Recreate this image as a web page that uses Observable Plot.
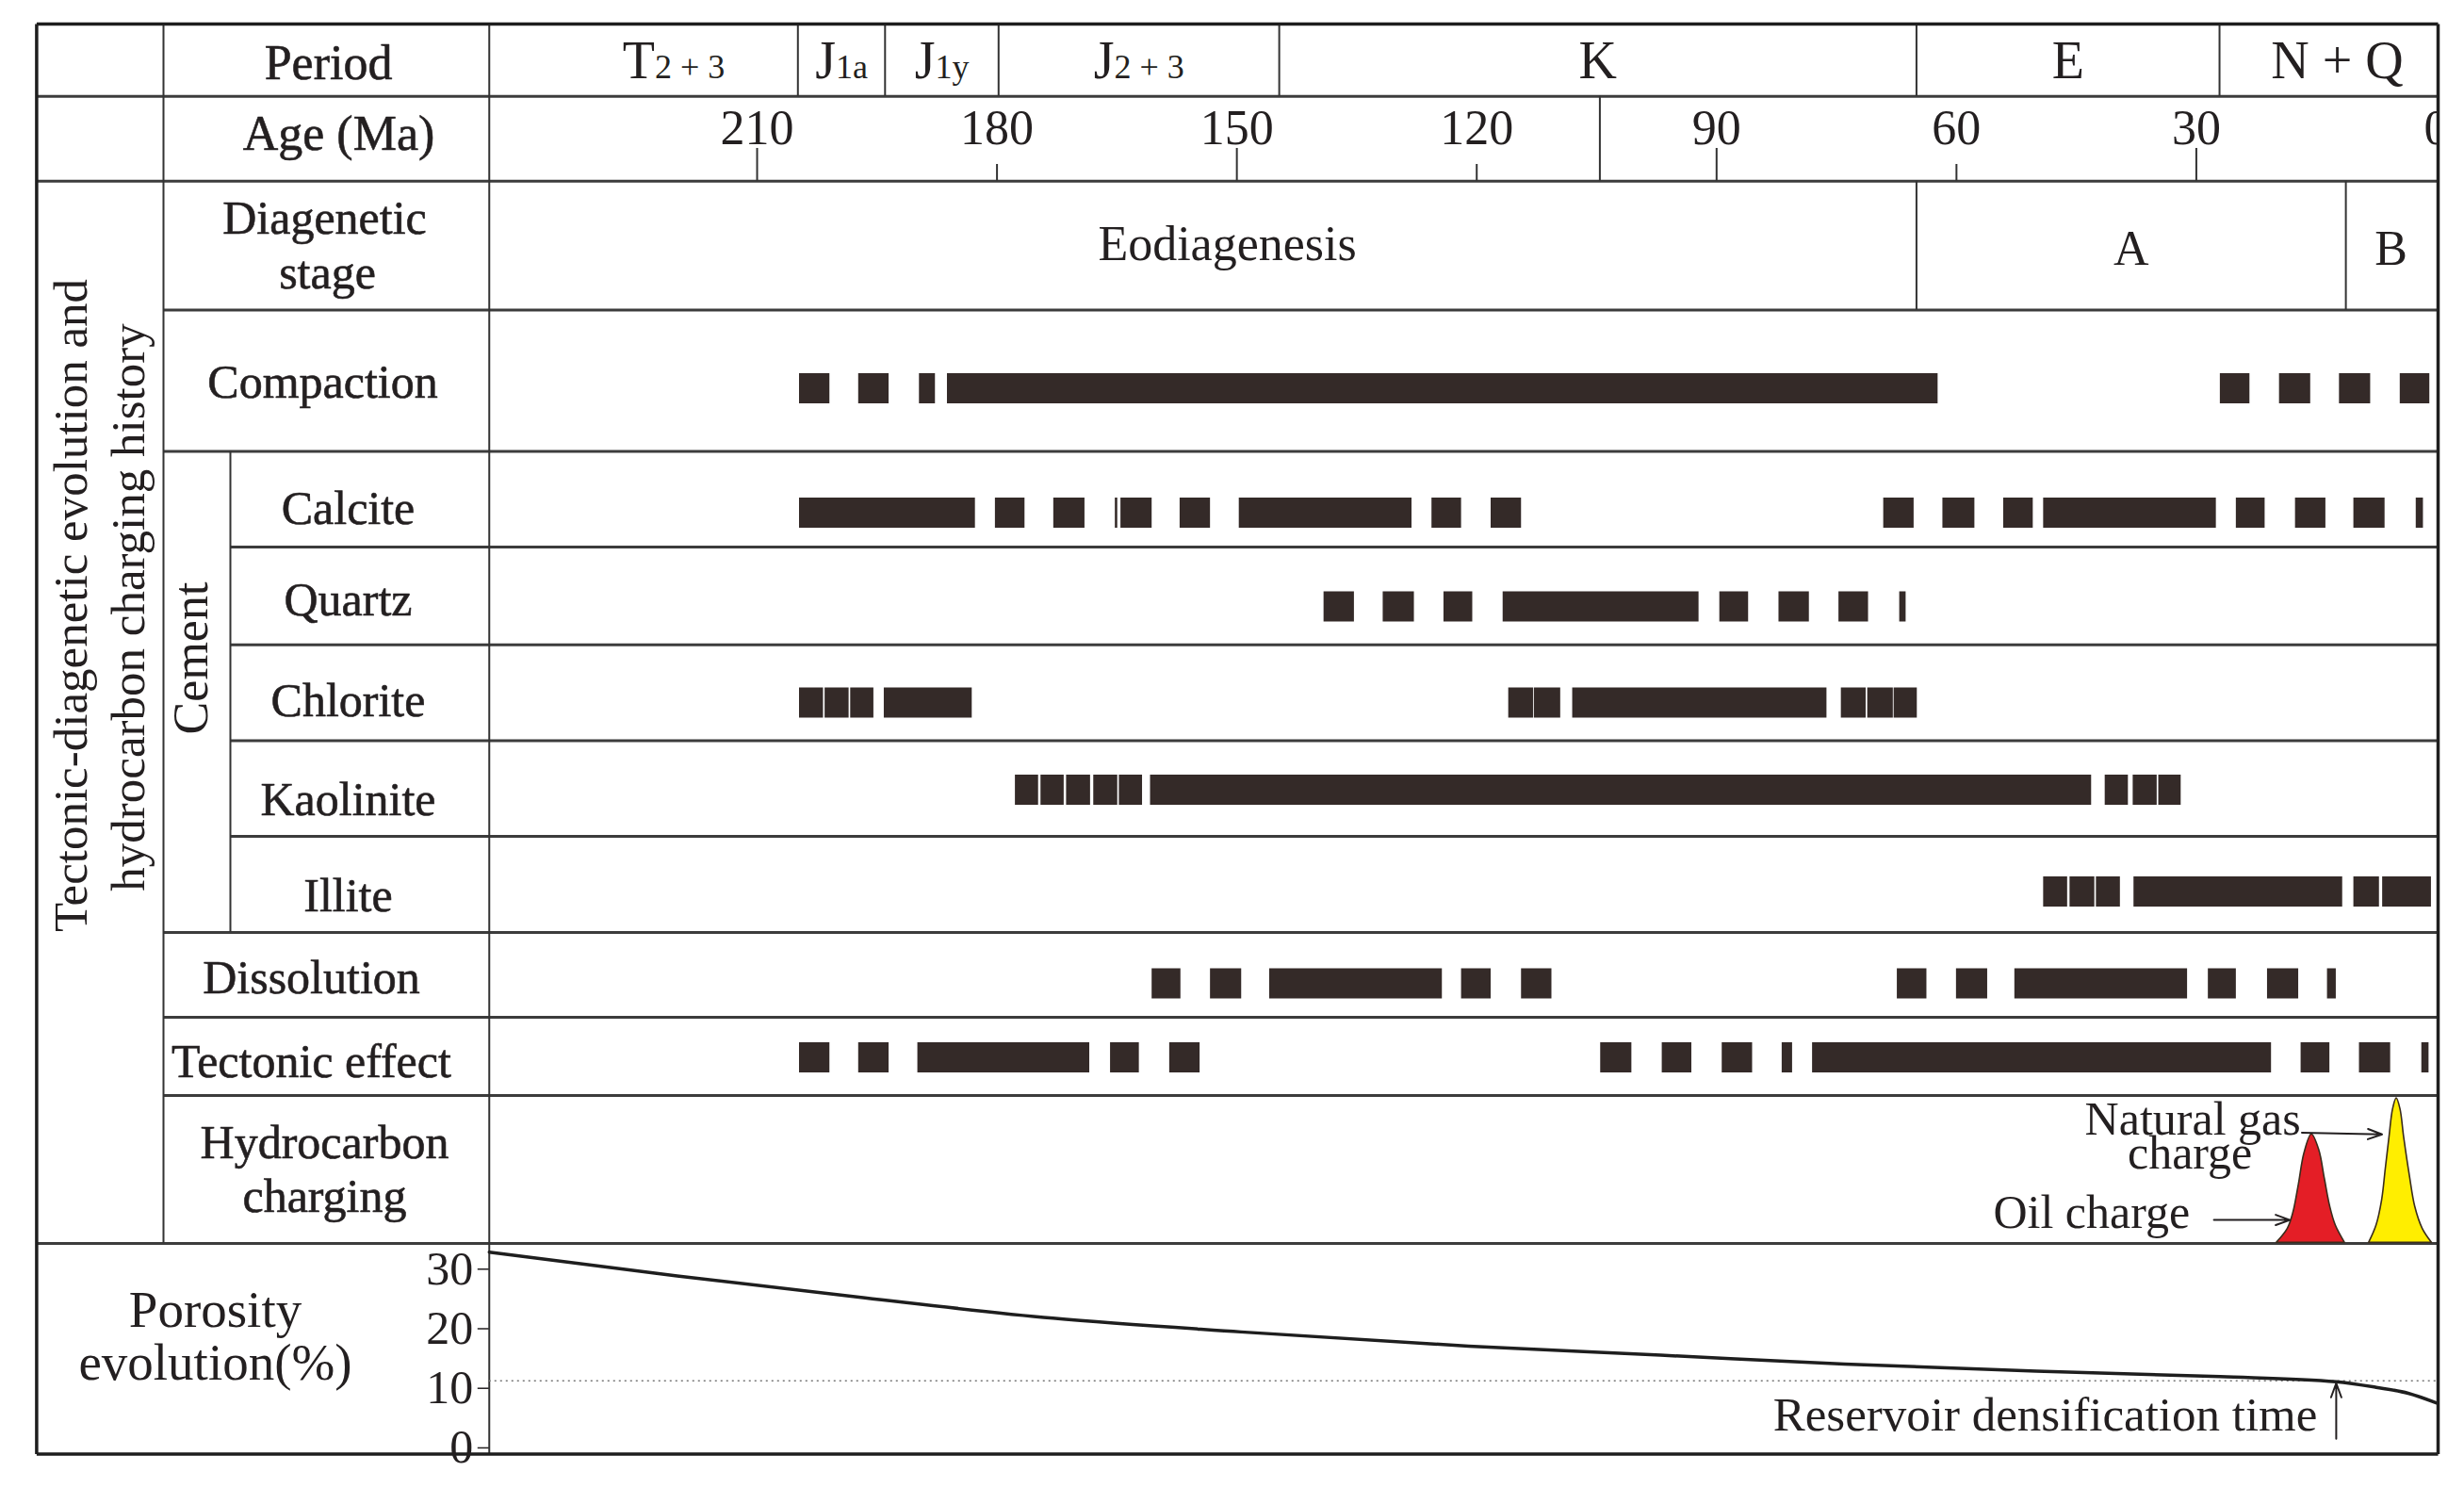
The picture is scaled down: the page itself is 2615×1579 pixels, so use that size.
<!DOCTYPE html>
<html>
<head>
<meta charset="utf-8">
<script src="https://cdn.jsdelivr.net/npm/d3@7"></script>
<script src="https://cdn.jsdelivr.net/npm/@observablehq/plot@0.6"></script>
<style>
  html, body { margin: 0; padding: 0; background: #fff; }
  #fig { position: relative; width: 2615px; height: 1579px; overflow: hidden; }
  #fig > svg { position: absolute; left: 0; }
  g[aria-label="row labels"] text { letter-spacing: 1.5px; }
</style>
</head>
<body>
<div id="fig"></div>
<script>
// ================= DATA =================
// geological periods (age in Ma, older / younger boundary)
const periodNames = ["T|2 + 3", "J|1a", "J|1y", "J|2 + 3", "K", "E", "N + Q"];
const periodOld   = [243.5, 204.9, 194.0, 179.8, 144.7, 65.0, 27.1];
const periodYoung = [204.9, 194.0, 179.8, 144.7, 65.0, 27.1, 0];
const ageTicks = [210, 180, 150, 120, 90, 60, 30, 0];
const ageRowDivider = [104.6];

// diagenetic stages
const stageNames = ["Eodiagenesis", "A", "B"];
const stageOld   = [243.5, 65.0, 11.3];
const stageYoung = [65.0, 11.3, 0];

// diagenetic processes: [older, younger] intervals in Ma
const processNames = ["Compaction", "Calcite", "Quartz", "Chlorite", "Kaolinite", "Illite", "Dissolution", "Tectonic effect"];
const compaction = [[204.7,200.9],[197.3,193.5],[189.7,187.7],[186.2,62.3],[27.0,23.3],[19.6,15.7],[12.1,8.2],[4.5,0.8]];
const calcite = [[204.7,182.7],[180.2,176.5],[172.9,169.0],[165.2,164.9],[164.5,160.6],[157.1,153.3],[149.7,128.1],[125.6,121.9],[118.2,114.4],
                 [69.1,65.3],[61.7,57.7],[54.1,50.4],[49.1,27.5],[25.0,21.4],[17.6,13.8],[10.3,6.4],[2.5,1.6]];
const quartz = [[139.1,135.3],[131.7,127.8],[124.1,120.5],[116.7,92.2],[89.6,86.0],[82.2,78.4],[74.7,71.0],[67.1,66.3]];
const chlorite = [[204.7,201.7],[201.5,198.5],[198.3,195.4],[194.1,183.1],[116.0,112.9],[112.8,109.5],[108.0,76.2],[74.4,71.3],[71.1,67.9],[67.8,64.9]];
const kaolinite = [[177.7,174.8],[174.5,171.6],[171.3,168.3],[167.9,164.9],[164.7,161.8],[160.8,43.1],[41.4,38.5],[37.9,34.9],[34.7,31.9]];
const illite = [[49.1,46.1],[45.8,42.7],[42.5,39.5],[37.8,11.7],[10.3,7.1],[6.7,0.6]];
const dissolution = [[160.6,157.0],[153.3,149.4],[145.9,124.3],[121.9,118.2],[114.4,110.6],
                     [67.4,63.7],[60.0,56.1],[52.7,31.1],[28.5,25.0],[21.1,17.2],[13.6,12.5]];
const tectonic = [[204.7,200.9],[197.3,193.5],[189.9,168.4],[165.8,162.2],[158.4,154.6],
                  [104.5,100.6],[96.8,93.1],[89.3,85.5],[81.8,80.5],[78.0,20.6],[16.9,13.3],[9.6,5.7],[1.8,0.9]];

// hydrocarbon charging pulses (relative intensity)
const oilAge   = [19.95, 18.56, 17.87, 17.18, 16.48, 15.56, 14.63, 13.94, 13.26, 12.56, 11.41];
const oilLevel = [0, 0.096, 0.203, 0.395, 0.608, 0.736, 0.629, 0.437, 0.245, 0.117, 0];
const gasAge   = [8.40, 7.47, 6.77, 6.31, 5.85, 5.40, 4.94, 4.47, 4.01, 3.31, 2.63, 1.70, 0.54];
const gasLevel = [0, 0.117, 0.288, 0.501, 0.714, 0.906, 0.981, 0.906, 0.714, 0.458, 0.245, 0.096, 0];

// porosity evolution (%)
const porosityAge   = [243.5, 220, 196.5, 173, 149.5, 121, 97, 74, 50, 27, 12.5, 7.5, 3.5, 0];
const porosityValue = [31.6, 27.6, 23.9, 20.5, 18.2, 15.8, 14.3, 12.8, 11.6, 10.7, 9.85, 8.9, 7.9, 6.3];
const porosityTicks = [0, 10, 20, 30];
const densificationThreshold = 10;
const densificationAge = 12.5;

// ================= LAYOUT =================
const W = 2615, H = 1579;
const CHART_L = 518.75, CHART_R = 2587, ZERO_PX = 2585;
const AGE_L = 243.5;
const PXMA = (ZERO_PX - CHART_L) / AGE_L;
const AGE_R = (ZERO_PX - CHART_R) / PXMA;
const toAge = px => (ZERO_PX - px) / PXMA;
const LEFT = 38.4, COL1 = 173, COL2 = 244;
const Y = {top: 25, period: 101.7, age: 191.8, diag: 328.5, comp: 478.6, calc: 580, quartz: 683.8,
           chlor: 785.5, kaol: 887, illite: 989, diss: 1079, tect: 1162, hydro: 1319, bottom: 1542.6};
const BAR_Y = [412, 544, 643.5, 745.5, 838, 946, 1043.5, 1122];
const BAR_H = 32;
const FONT = "'Liberation Serif', 'Times New Roman', serif";
const INK = "#231f20";
const BAR = "#342a28";
const LINE = "#333";

// ================= BUILD TABLES =================
const intervals = [compaction, calcite, quartz, chlorite, kaolinite, illite, dissolution, tectonic];
const bars = [];
processNames.forEach((p, i) => intervals[i].forEach(([o, y]) => bars.push({process: p, i, old: o, young: y})));
const periods = periodNames.map((name, i) => ({name, old: periodOld[i], young: periodYoung[i]}));
const stages = stageNames.map((name, i) => ({name, old: stageOld[i], young: stageYoung[i]}));
const oil = oilAge.map((age, i) => ({age, level: oilLevel[i]}));
const gas = gasAge.map((age, i) => ({age, level: gasLevel[i]}));
const porosity = porosityAge.map((age, i) => ({age, value: porosityValue[i]}));

const hLines = [
  {y: Y.period, x1: LEFT, x2: CHART_R}, {y: Y.age, x1: LEFT, x2: CHART_R},
  {y: Y.diag, x1: COL1, x2: CHART_R}, {y: Y.comp, x1: COL1, x2: CHART_R},
  {y: Y.calc, x1: COL2, x2: CHART_R}, {y: Y.quartz, x1: COL2, x2: CHART_R},
  {y: Y.chlor, x1: COL2, x2: CHART_R}, {y: Y.kaol, x1: COL2, x2: CHART_R},
  {y: Y.illite, x1: COL1, x2: CHART_R}, {y: Y.diss, x1: COL1, x2: CHART_R},
  {y: Y.tect, x1: COL1, x2: CHART_R}, {y: Y.hydro, x1: LEFT, x2: CHART_R}
];
const vLines = [
  {x: COL1, y1: Y.top, y2: Y.hydro}, {x: COL2, y1: Y.comp, y2: Y.illite},
  {x: CHART_L, y1: Y.top, y2: Y.bottom}
];
const border = [
  {x1: LEFT, y1: Y.top, x2: CHART_R, y2: Y.top}, {x1: LEFT, y1: Y.bottom, x2: CHART_R, y2: Y.bottom},
  {x1: LEFT, y1: Y.top, x2: LEFT, y2: Y.bottom}, {x1: CHART_R, y1: Y.top, x2: CHART_R, y2: Y.bottom}
];
const rowLabels = [
  {t: "Period", x: 348, y: 83, s: 52}, {t: "Age (Ma)", x: 359, y: 158, s: 52},
  {t: "Diagenetic", x: 344, y: 247, s: 50}, {t: "stage", x: 347, y: 305, s: 50},
  {t: "Compaction", x: 342, y: 421, s: 50},
  {t: "Calcite", x: 369, y: 555, s: 50}, {t: "Quartz", x: 369, y: 652, s: 50},
  {t: "Chlorite", x: 369, y: 759, s: 50}, {t: "Kaolinite", x: 369, y: 864, s: 50},
  {t: "Illite", x: 369, y: 966, s: 50}, {t: "Dissolution", x: 330, y: 1053, s: 50},
  {t: "Hydrocarbon", x: 344, y: 1228, s: 50}, {t: "charging", x: 344, y: 1285, s: 50}
];

const stageShift = [26, 0, 0];
const periodShift = [32, 0, 0, 0, 0, 0, 10];
const midPx = d => ((ZERO_PX - d.old * PXMA) + (ZERO_PX - d.young * PXMA)) / 2;

const main = Plot.plot({
  width: W, height: H,
  marginLeft: CHART_L, marginRight: W - CHART_R, marginTop: 0, marginBottom: 0,
  x: {domain: [AGE_L, AGE_R], axis: null},
  y: {type: "identity", axis: null},
  style: {fontFamily: FONT, background: "white", color: INK},
  marks: [
    Plot.rect(bars, {x1: "old", x2: "young", y1: d => BAR_Y[d.i] - BAR_H / 2, y2: d => BAR_Y[d.i] + BAR_H / 2, fill: BAR}),
    Plot.ruleY(hLines, {y: "y", x1: d => toAge(d.x1), x2: d => toAge(d.x2), stroke: "#3c3c3c", strokeWidth: 3}),
    Plot.ruleX(vLines, {x: d => toAge(d.x), y1: "y1", y2: "y2", stroke: LINE, strokeWidth: 2}),
    Plot.ruleX(periodOld.slice(1), {x: d => d, y1: Y.top, y2: Y.period, stroke: LINE, strokeWidth: 2}),
    Plot.ruleX(stageOld.slice(1), {x: d => d, y1: Y.age, y2: Y.diag, stroke: LINE, strokeWidth: 2}),
    Plot.ruleX(ageRowDivider, {x: d => d, y1: Y.period, y2: Y.age, stroke: LINE, strokeWidth: 2}),
    Plot.ruleX(ageTicks.filter(d => d > 0), {x: d => d, y1: (d, i) => i % 2 === 0 ? 157 : 174, y2: Y.age, stroke: LINE, strokeWidth: 2}),
    Plot.link(border, {x1: d => toAge(d.x1), x2: d => toAge(d.x2), y1: "y1", y2: "y2", stroke: "#1e1e1e", strokeWidth: 3.5}),
    // tick labels
    Plot.text(ageTicks, {x: d => d, y: 152, text: d => String(d), lineAnchor: "bottom", fontSize: 52, fill: INK, clip: "frame"}),
    // period & stage labels
    Plot.text(periods, {x: (d, i) => toAge(midPx(d) + periodShift[i]), y: 82, text: "name", lineAnchor: "bottom", fontSize: 56, fill: INK}),
    Plot.text(stages, {x: (d, i) => toAge(midPx(d) + stageShift[i]), y: (d, i) => i === 0 ? 275 : 280, text: "name", lineAnchor: "bottom", fontSize: 52, fill: INK}),
    // row labels
    Plot.text(rowLabels, {x: d => toAge(d.x), y: "y", text: "t", fontSize: d => d.s, lineAnchor: "bottom", fill: INK, stroke: INK, strokeWidth: 0.6, ariaLabel: "row labels"}),
    Plot.text(["Tectonic effect"], {x: toAge(330), y: 1142, text: d => d, fontSize: 50, lineAnchor: "bottom", fill: INK, stroke: INK, strokeWidth: 0.6}),
    Plot.text(["Cement"], {x: toAge(219), y: 698, text: d => d, rotate: -90, fontSize: 52, lineAnchor: "bottom", fill: INK}),
    Plot.text(["Tectonic-diagenetic evolution and"], {x: toAge(91), y: 642, text: d => d, rotate: -90, fontSize: 51, lineAnchor: "bottom", fill: INK}),
    Plot.text(["hydrocarbon charging history"], {x: toAge(152), y: 644, text: d => d, rotate: -90, fontSize: 51, lineAnchor: "bottom", fill: INK}),
    Plot.text(["Porosity"], {x: toAge(228), y: 1407, text: d => d, fontSize: 55, lineAnchor: "bottom", fill: INK}),
    Plot.text(["evolution(%)"], {x: toAge(228), y: 1463, text: d => d, fontSize: 55, lineAnchor: "bottom", fill: INK})
  ]
});
// subscript parts of period names
d3.select(main).selectAll("text").each(function () {
  const t = this.textContent;
  if (t.includes("|")) {
    const [a, b] = t.split("|");
    const s = d3.select(this);
    s.text(null);
    s.append("tspan").text(a);
    s.append("tspan").attr("font-size", 36).text(b);
  }
});
main.style.top = "0px";

const hydro = Plot.plot({
  width: W, height: Y.hydro - Y.tect,
  marginLeft: CHART_L, marginRight: W - CHART_R, marginTop: 0, marginBottom: 0.7,
  x: {domain: [AGE_L, AGE_R], axis: null},
  y: {domain: [0, 1], axis: null},
  style: {fontFamily: FONT, background: "transparent", overflow: "visible", color: INK},
  marks: [
    Plot.areaY(oil, {x: "age", y: "level", curve: "catmull-rom", fill: "#e41e26", stroke: "#3a2c1c", strokeWidth: 1.6}),
    Plot.areaY(gas, {x: "age", y: "level", curve: "catmull-rom", fill: "#ffee00", stroke: "#3a2c1c", strokeWidth: 1.6}),
    Plot.text(["Natural gas"], {x: 16.95, y: 0.736, text: d => d, textAnchor: "end", lineAnchor: "bottom", fontSize: 50, fill: INK}),
    Plot.text(["charge"], {x: 30.8, y: 0.505, text: d => d, lineAnchor: "bottom", fontSize: 50, fill: INK}),
    Plot.text(["Oil charge"], {x: 30.8, y: 0.104, text: d => d, textAnchor: "end", lineAnchor: "bottom", fontSize: 50, fill: INK}),
    Plot.arrow([{x1: 16.8, y1: 0.748, x2: 6.77, y2: 0.736}], {x1: "x1", y1: "y1", x2: "x2", y2: "y2", stroke: INK, strokeWidth: 2, headLength: 12, headAngle: 40}),
    Plot.arrow([{x1: 27.8, y1: 0.155, x2: 18.3, y2: 0.155}], {x1: "x1", y1: "y1", x2: "x2", y2: "y2", stroke: INK, strokeWidth: 2, headLength: 12, headAngle: 40})
  ]
});
hydro.style.top = Y.tect + "px";

const poro = Plot.plot({
  width: W, height: Y.bottom - Y.hydro,
  marginLeft: CHART_L, marginRight: W - CHART_R, marginTop: 0, marginBottom: 0,
  x: {domain: [AGE_L, AGE_R], axis: null},
  y: {domain: [-2.32, 33.05]},
  style: {fontFamily: FONT, background: "transparent", overflow: "visible", color: INK},
  marks: [
    Plot.axisY({ticks: porosityTicks, anchor: "left", label: null, tickSize: 12, tickPadding: 5, fontSize: 50, dy: 8, stroke: INK, strokeWidth: 1.5}),
    Plot.ruleY([densificationThreshold], {stroke: "#777", strokeWidth: 1.5, strokeDasharray: "2 4"}),
    Plot.line(porosity, {x: "age", y: "value", curve: "monotone-x", stroke: "#1e1e1e", strokeWidth: 3.5}),
    Plot.arrow([densificationAge], {x1: d => d, x2: d => d, y1: 0.25, y2: 9.6, stroke: INK, strokeWidth: 2, headLength: 12, headAngle: 40}),
    Plot.text(["Reservoir densification time"], {x: densificationAge, dx: -20, y: 1.63, text: d => d, textAnchor: "end", lineAnchor: "bottom", fontSize: 51, fill: INK})
  ]
});
poro.style.top = Y.hydro + "px";

const fig = document.getElementById("fig");
fig.append(main, hydro, poro);
</script>
</body>
</html>
